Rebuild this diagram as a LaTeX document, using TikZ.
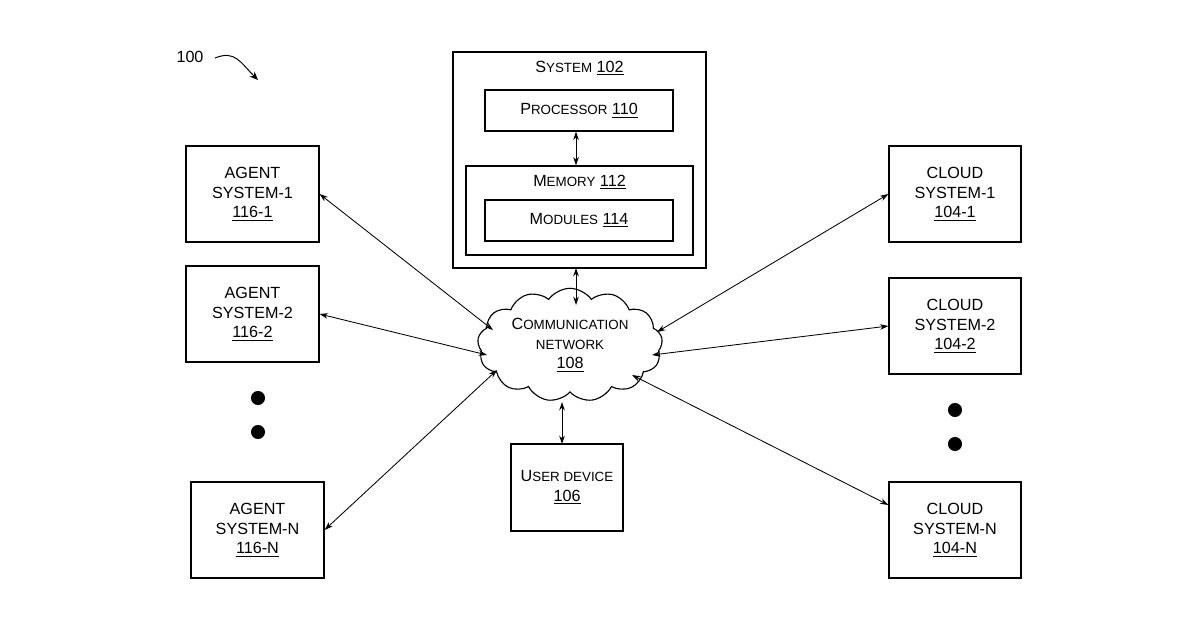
\documentclass[tikz,border=0pt]{standalone}
\usepackage{fontspec}
\setmainfont{Liberation Sans}
\usetikzlibrary{shapes.symbols,arrows.meta,decorations.pathmorphing}
\newcommand{\sm}[1]{{\fontsize{9.5pt}{11pt}\selectfont #1}}
\begin{document}
\begin{tikzpicture}[x=0.025cm,y=-0.025cm,
  box/.style={draw,line width=0.8pt,inner sep=0pt,align=center,font=\fontsize{11.5pt}{14pt}\selectfont},
  con/.style={line width=0.6pt,{Stealth[length=6pt,width=4pt]}-{Stealth[length=6pt,width=4pt]}},
  dot/.style={circle,fill,inner sep=0pt,minimum size=10pt}]
\useasboundingbox (0,0) rectangle (1200,630);
\node[box,minimum width=133*0.025cm,minimum height=96*0.025cm] (a1) at (252.5,194) {AGENT\\SYSTEM-1\\\underline{116-1}};
\node[box,minimum width=133*0.025cm,minimum height=96*0.025cm] (a2) at (252.5,314) {AGENT\\SYSTEM-2\\\underline{116-2}};
\node[box,minimum width=133*0.025cm,minimum height=96*0.025cm] (an) at (257.5,530) {AGENT\\SYSTEM-N\\\underline{116-N}};
\node[box,minimum width=132*0.025cm,minimum height=96*0.025cm] (c1) at (955,194) {CLOUD\\SYSTEM-1\\\underline{104-1}};
\node[box,minimum width=132*0.025cm,minimum height=96*0.025cm] (c2) at (955,326) {CLOUD\\SYSTEM-2\\\underline{104-2}};
\node[box,minimum width=132*0.025cm,minimum height=96*0.025cm] (cn) at (955,530) {CLOUD\\SYSTEM-N\\\underline{104-N}};
\node[box,minimum width=253*0.025cm,minimum height=216*0.025cm] (sys) at (579.5,160) {};
\node[font=\fontsize{11.5pt}{14pt}\selectfont] (syst) at (579.5,68) {S\sm{YSTEM} \underline{102}};
\node[box,minimum width=188*0.025cm,minimum height=41*0.025cm] (proc) at (579,110.5) {P\sm{ROCESSOR} \underline{110}};
\node[box,minimum width=227*0.025cm,minimum height=89*0.025cm] (mem) at (579.5,210.5) {};
\node[font=\fontsize{11.5pt}{14pt}\selectfont] (memt) at (579.5,182) {M\sm{EMORY} \underline{112}};
\node[box,minimum width=188*0.025cm,minimum height=41*0.025cm] (mod) at (579,220.5) {M\sm{ODULES} \underline{114}};
\node[box,minimum width=112*0.025cm,minimum height=87*0.025cm] (ud) at (567,487.5) {U\sm{SER DEVICE}\\\underline{106}};
\node[cloud,draw,line width=0.8pt,cloud puffs=13,cloud puff arc=110,aspect=1.9,minimum width=160*0.025cm,minimum height=105*0.025cm,align=center,font=\fontsize{11.5pt}{14pt}\selectfont] (net) at (570,345) {C\sm{OMMUNICATION}\\\sm{NETWORK}\\\underline{108}};
\node[font=\fontsize{11.5pt}{14pt}\selectfont] (lbl) at (190,57) {100};
\coordinate (s1) at (215,58); \coordinate (s2) at (258,80);
\draw[line width=0.7pt,-{Stealth[length=6pt,width=5pt]}] (s1) .. controls (235,50) and (240,62) .. (s2);
\node[dot] (d1) at (258,398) {}; \node[dot] (d2) at (258,432) {};
\node[dot] (d3) at (955,410) {}; \node[dot] (d4) at (955,444) {};
\coordinate (n1) at (493,330); \coordinate (n2) at (487,355); \coordinate (n3) at (497,370);
\coordinate (m1) at (657,332); \coordinate (m2) at (652,355); \coordinate (m3) at (632,375);
\coordinate (ns) at (576,305); \coordinate (nu) at (562,402);
\coordinate (ss) at (576,268); \coordinate (uu) at (562,444);
\draw[con] (a1.east) -- (n1);
\draw[con] (a2.east) -- (n2);
\draw[con] (an.east) -- (n3);
\draw[con] (c1.west) -- (m1);
\draw[con] (c2.west) -- (m2);
\draw[con] (cn.west) ++(0,-25) coordinate (cw) -- (m3);
\draw[con] (ss) -- (ns);
\draw[con] (uu) -- (nu);
\draw[con] (proc.south -| 576,0) -- (mem.north -| 576,0);
\end{tikzpicture}
\end{document}
